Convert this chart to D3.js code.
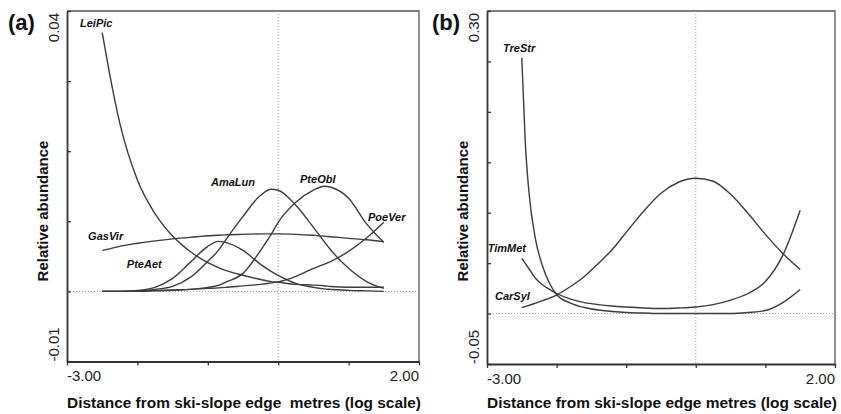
<!DOCTYPE html>
<html>
  <head>
    <script src="https://d3js.org/d3.v7.min.js"></script>
    <style>
      body { margin: 0; background: #fff; }
      text { font-family: "Liberation Sans", Arial, sans-serif; }
    </style>
  </head>
  <body>
    <div id="chart"></div>
  </body>
  <script>
    // ---- panel (a) data: distance (log) and relative abundance
    var xGridA = [-2.5, -2.4, -2.25, -2.0, -1.75, -1.5, -1.25, -1.0, -0.85, -0.75, -0.5,
                  -0.25, -0.1, 0, 0.25, 0.5, 0.65, 0.75, 1.0, 1.25, 1.5];
    var leiPic = [0.0369, 0.0313, 0.0240, 0.0159, 0.0111, 0.0079, 0.0057, 0.0041, 0.0034, 0.0030, 0.0023,
                  0.0017, 0.0014, 0.0013, 0.0010, 0.0009, 0.0008, 0.0007, 0.0006, 0.0006, 0.0006];
    var gasVir = [0.00586, 0.00607, 0.00643, 0.00686, 0.00721, 0.0075, 0.00771, 0.00793, 0.008, 0.00807, 0.00814,
                  0.00821, 0.00821, 0.00821, 0.00814, 0.008, 0.00789, 0.00779, 0.00757, 0.00736, 0.00707];
    var pteAet = [0, 0, 0, 0.00014, 0.00057, 0.00186, 0.00414, 0.00643, 0.00714, 0.007, 0.00586,
                  0.00386, 0.00286, 0.00229, 0.00114, 0.00057, 0.00036, 0.00029, 0.00014, 0.00007, 0];
    var amaLun = [0, 0, 0, 0.00007, 0.00029, 0.00071, 0.002, 0.00429, 0.00586, 0.00729, 0.01071,
                  0.01371, 0.01457, 0.01443, 0.01229, 0.00914, 0.00714, 0.00586, 0.00329, 0.00143, 0.00043];
    var pteObl = [0, 0, 0, 0, 0.00007, 0.00014, 0.00029, 0.00057, 0.00086, 0.00129, 0.00257,
                  0.00586, 0.00814, 0.00986, 0.01271, 0.01443, 0.015, 0.01486, 0.01329, 0.00971, 0.007];
    var poeVer = [0, 0, 0, 0.00007, 0.00014, 0.00021, 0.00029, 0.00043, 0.0005, 0.00057, 0.00079,
                  0.001, 0.00121, 0.00136, 0.00214, 0.00329, 0.00386, 0.00429, 0.00571, 0.00757, 0.00986];

    // ---- panel (b) data
    var xGridB = [-2.5, -2.45, -2.4, -2.3, -2.2, -2.1, -2.0, -1.8, -1.6, -1.4, -1.2,
                  -1.0, -0.75, -0.5, -0.25, 0, 0.25, 0.5, 0.75, 1.0, 1.25, 1.5];
    var treStr = [0.2535, 0.17, 0.1223, 0.0726, 0.0467, 0.0298, 0.0189, 0.0104, 0.006, 0.0035, 0.002,
                  0.001, 0.0005, 0, 0, 0, 0, 0, 0.001, 0.003, 0.0109, 0.0239];
    var timMet = [0.0547, 0.0497, 0.0447, 0.0348, 0.0283, 0.0239, 0.0199, 0.0144, 0.0109, 0.0089, 0.0075,
                  0.0065, 0.0055, 0.005, 0.0055, 0.0065, 0.0089, 0.0134, 0.0199, 0.0318, 0.0577, 0.1024];
    var carSyl = [0.006, 0.007, 0.008, 0.0104, 0.0129, 0.0154, 0.0184, 0.0268, 0.0368, 0.0497, 0.0636,
                  0.0805, 0.1014, 0.1193, 0.1302, 0.1342, 0.1312, 0.1183, 0.0994, 0.0785, 0.0596, 0.0437];

    // tick values and end labels
    var xTicks = [-3, -2, -1, 0, 1, 2];
    var xTickLabels = ["-3.00", "2.00"];
    var yTicksA = [-0.01, 0, 0.01, 0.02, 0.03, 0.04];
    var yTickLabelsA = ["-0.01", "0.04"];
    var yTicksB = [-0.05, 0, 0.05, 0.10, 0.15, 0.20, 0.25, 0.30];
    var yTickLabelsB = ["-0.05", "0.30"];

    // species names and where their labels sit (data coords)
    var namesA = ["LeiPic", "GasVir", "PteAet", "AmaLun", "PteObl", "PoeVer"];
    var labelAtA = [[-2.815, 0.0377], [-2.70, 0.0074], [-2.15, 0.0034], [-0.955, 0.0150], [0.31, 0.0154], [1.276, 0.0101]];
    var namesB = ["TreStr", "TimMet", "CarSyl"];
    var labelAtB = [[-2.77, 0.259], [-2.99, 0.0606], [-2.885, 0.0139]];

    var svg = d3.select("#chart")
                .append("svg")
                  .attr("width", 841)
                  .attr("height", 414);

    function drawPanel(p) {
      var x = d3.scaleLinear().domain([-3, 2]).range([p.left, p.right]);
      var y = d3.scaleLinear().domain([p.yTicks[0], p.yTicks[p.yTicks.length - 1]]).range([p.bottom, p.top]);
      var g = svg.append("g");

      // frame (top + right)
      g.append("path")
        .attr("d", "M" + p.left + "," + p.top + "H" + p.right + "V" + p.bottom)
        .style("fill", "none")
        .style("stroke", "#555")
        .style("stroke-width", 1.3);

      // dotted zero lines
      g.append("line")
        .attr("x1", x(-3)).attr("x2", x(2))
        .attr("y1", y(0)).attr("y2", y(0))
        .style("stroke", "#999").style("stroke-dasharray", "1,2");
      g.append("line")
        .attr("x1", x(0)).attr("x2", x(0))
        .attr("y1", p.top).attr("y2", p.bottom)
        .style("stroke", "#999").style("stroke-dasharray", "1,2");

      // axes
      var xAxis = g.append("g")
        .attr("transform", "translate(0," + p.bottom + ")")
        .call(d3.axisBottom(x).tickValues(xTicks).tickSize(4).tickSizeOuter(0).tickFormat(""));
      var yAxis = g.append("g")
        .attr("transform", "translate(" + p.left + ",0)")
        .call(d3.axisLeft(y).tickValues(p.yTicks).tickSize(-4).tickSizeOuter(0).tickFormat(""));
      [xAxis, yAxis].forEach(function(a) {
        a.select(".domain").style("stroke", "#333").style("stroke-width", 1.8);
        a.selectAll(".tick line").style("stroke", "#333").style("stroke-width", 1.3);
      });

      // end tick labels
      g.append("text").text(xTickLabels[0])
        .attr("x", x(-3)).attr("y", p.bottom + 19.5)
        .style("font-size", "15px").style("fill", "#222");
      g.append("text").text(xTickLabels[1])
        .attr("x", x(2)).attr("y", p.bottom + 19.5)
        .style("text-anchor", "end")
        .style("font-size", "15px").style("fill", "#222");
      g.append("text").text(p.yLabels[1])
        .attr("transform", "translate(" + (p.left - 8.5) + "," + (y(p.yTicks[p.yTicks.length - 1]) + 2) + ") rotate(-90)")
        .style("text-anchor", "end")
        .style("font-size", "15px").style("fill", "#222");
      g.append("text").text(p.yLabels[0])
        .attr("transform", "translate(" + (p.left - 8.5) + "," + p.bottom + ") rotate(-90)")
        .style("font-size", "15px").style("fill", "#222");

      // axis titles
      g.append("text").text(p.xTitle)
        .attr("x", p.left).attr("y", 408)
        .attr("textLength", p.right - p.left + 2)
        .attr("lengthAdjust", "spacingAndGlyphs")
        .style("white-space", "pre")
        .style("font-size", "14px").style("font-weight", "bold").style("fill", "#111");
      g.append("text").text("Relative abundance")
        .attr("transform", "translate(" + (p.left - 19) + ",211) rotate(-90)")
        .style("text-anchor", "middle")
        .style("font-size", "15px").style("font-weight", "bold").style("fill", "#111");

      // panel letter
      g.append("text").text(p.letter)
        .attr("x", p.letterX).attr("y", 30)
        .style("font-size", "22px").style("font-weight", "bold").style("fill", "#111");

      // response curves
      var line = d3.line()
        .x(function(d, i) { return x(p.grid[i]); })
        .y(function(d) { return y(d); })
        .curve(d3.curveMonotoneX);
      g.selectAll(".curve")
        .data(p.series)
        .enter()
        .append("path")
          .attr("class", "curve")
          .attr("d", line)
          .style("fill", "none")
          .style("stroke", "#3c3c3c")
          .style("stroke-width", 1.4);

      // species labels
      g.selectAll(".sp")
        .data(p.names)
        .enter()
        .append("text")
          .attr("class", "sp")
          .text(function(d) { return d; })
          .attr("x", function(d, i) { return x(p.labelAt[i][0]); })
          .attr("y", function(d, i) { return y(p.labelAt[i][1]); })
          .style("font-size", "11px")
          .style("font-weight", "bold")
          .style("font-style", "italic")
          .style("fill", "#111");
    }

    drawPanel({
      left: 67, right: 419, top: 11, bottom: 361.5,
      grid: xGridA,
      series: [leiPic, gasVir, pteAet, amaLun, pteObl, poeVer],
      names: namesA, labelAt: labelAtA,
      yTicks: yTicksA, yLabels: yTickLabelsA,
      xTitle: "Distance from ski-slope edge  metres (log scale)",
      letter: "(a)", letterX: 8
    });

    drawPanel({
      left: 487, right: 835, top: 11, bottom: 364,
      grid: xGridB,
      series: [treStr, timMet, carSyl],
      names: namesB, labelAt: labelAtB,
      yTicks: yTicksB, yLabels: yTickLabelsB,
      xTitle: "Distance from ski-slope edge metres (log scale)",
      letter: "(b)", letterX: 432
    });
  </script>
</html>
